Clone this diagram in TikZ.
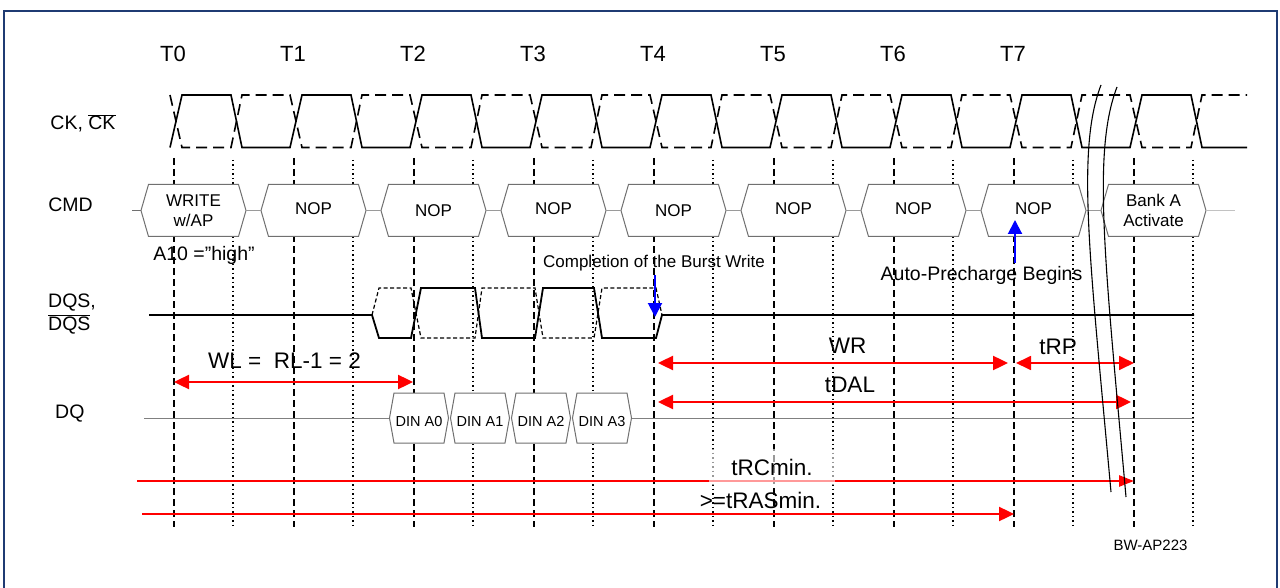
\documentclass[tikz,border=0pt]{standalone}
\usepackage{fontspec}
\setmainfont{Liberation Sans}
\usetikzlibrary{arrows.meta}
\definecolor{frameblue}{HTML}{1F3B73}
\definecolor{boxgray}{HTML}{707070}
\definecolor{linegray}{HTML}{9A9A9A}
\definecolor{sigred}{HTML}{FF0000}
\definecolor{sigblue}{HTML}{0000FF}
\newcommand{\fsz}[1]{\fontsize{#1}{#1}\selectfont}
\newcommand{\ovl}[1]{\ensuremath{\overline{\mbox{#1}}}}
\begin{document}
\begin{tikzpicture}[x=1pt,y=-1pt,
  lbl/.style={inner sep=0pt, anchor=base},
  lblw/.style={inner sep=0pt, anchor=base west},
  clk/.style={line width=1.6, line join=miter},
  clkn/.style={clk, dash pattern=on 11pt off 6pt},
  vdash/.style={line width=1.4, dash pattern=on 7pt off 4pt},
  vdot/.style={line width=1.4, dash pattern=on 1.5pt off 3pt},
  hexline/.style={draw=boxgray, fill=white, line width=1},
  conn/.style={draw=linegray, line width=1},
  cmdbox/.style={minimum width=105pt, minimum height=52pt, inner sep=0pt, align=center, font=\fontsize{17}{20}\selectfont},
  nopbox/.style={cmdbox, text height=12.4pt, text depth=0pt},
  dinbox/.style={minimum width=59pt, minimum height=50pt, inner sep=0pt, font=\fsz{14.5}, text height=10.6pt, text depth=0pt},
  redarr/.style={draw=sigred, line width=2.4},
  twoheads/.style={{Triangle[length=15pt,width=14pt]}-{Triangle[length=15pt,width=14pt]}},
  onehead/.style={-{Triangle[length=15pt,width=14pt]}},
  bluearr/.style={draw=sigblue, line width=2, -{Triangle[length=14pt,width=14pt]}},
  sigline/.style={line width=1.8, line join=miter},
  signeg/.style={line width=1.2, dash pattern=on 4pt off 2.5pt},
  brk/.style={line width=1.1}
]
\useasboundingbox (0,0) rectangle (1280,588);
\clip (0,0) rectangle (1280,588);
\fill[white] (0,0) rectangle (1280,588);

% frame
\draw[frameblue, line width=2.4] (4,11) rectangle (1277,620);

% clock labels
\foreach \i in {0,...,7}
  \node[lbl, font=\fsz{22}] (t\i) at ({173+120*\i},61.5) {T\i};

% signal names
\node[lbl, font=\fsz{19.5}] (ckname) at (83,130) {CK, \ovl{CK}};
\node[lbl, font=\fsz{19.5}] (cmdname) at (70.5,212) {CMD};
\node[lblw, font=\fsz{19.5}] (dqsname) at (48,307.3) {DQS,};
\node[lblw, font=\fsz{19.5}] (dqsnname) at (48,330) {\ovl{DQS}};
\node[lblw, font=\fsz{19.5}] (dqname) at (55,418) {DQ};

% clock
\draw[clk] (170,147.5) \foreach \i in {0,...,8}{ -- ({170+120*\i},147.5) -- ({182+120*\i},95) -- ({231+120*\i},95) -- ({242+120*\i},147.5) } -- (1247,147.5);
\draw[clkn] (170,95) \foreach \i in {0,...,8}{ -- ({170+120*\i},95) -- ({182+120*\i},147.5) -- ({231+120*\i},147.5) -- ({242+120*\i},95) } -- (1247,95);

% grid lines
\foreach \i in {0,...,8}{
  \draw[vdash] ({174+120*\i},158) -- ({174+120*\i},527);
  \draw[vdot] ({233+120*\i},160) -- ({233+120*\i},527);
}

% DQS / DQS#
\draw[signeg] (372,315) -- (379,288) -- (411,288) -- (421,338) -- (475,338) -- (482,288) -- (535,288) -- (543,338) -- (594,338) -- (602,288) -- (656,288) -- (662,315);
\draw[sigline] (149,315) -- (372,315) -- (379,338) -- (411,338) -- (421,288) -- (475,288) -- (482,338) -- (535,338) -- (543,288) -- (594,288) -- (602,338) -- (656,338) -- (662,315) -- (1194,315);

% CMD boxes
\foreach \k in {0,...,8}
  \path[hexline] ({141+120*\k},210.5) -- ({148.5+120*\k},184.5) -- ({238.5+120*\k},184.5) -- ({246+120*\k},210.5) -- ({238.5+120*\k},236.5) -- ({148.5+120*\k},236.5) -- cycle;
\node[cmdbox] (c0) at (193.5,210.5) {WRITE\\w/AP};
\node[nopbox] (c1) at (313.5,210.5) {\raisebox{2pt}{NOP}};
\node[nopbox] (c2) at (433.5,210.5) {NOP};
\node[nopbox] (c3) at (553.5,210.5) {\raisebox{2pt}{NOP}};
\node[nopbox] (c4) at (673.5,210.5) {NOP};
\node[nopbox] (c5) at (793.5,210.5) {\raisebox{2pt}{NOP}};
\node[nopbox] (c6) at (913.5,210.5) {\raisebox{2pt}{NOP}};
\node[nopbox] (c7) at (1033.5,210.5) {\raisebox{2pt}{NOP}};
\node[cmdbox] (c8) at (1153.5,210.5) {Bank A\\Activate};
\coordinate (cmdL) at (132,210.5);
\coordinate (cmdR) at (1235,210.5);
\draw[line width=1, draw=boxgray] (cmdL) -- (c0.west);
\foreach \a/\b in {0/1,1/2,2/3,3/4,4/5,5/6,6/7,7/8}
  \draw[conn] (c\a.east) -- (c\b.west);
\draw[conn, draw=linegray!60] (c8.east) -- (cmdR);

% DQ
\foreach \k in {0,...,3}
  \path[hexline] ({389.5+61*\k},418) -- ({394+61*\k},393) -- ({444+61*\k},393) -- ({448.5+61*\k},418) -- ({444+61*\k},443) -- ({394+61*\k},443) -- cycle;
\node[dinbox] (d0) at (419,418) {\raisebox{-3pt}{DIN A0}};
\node[dinbox] (d1) at (480,418) {\raisebox{-3pt}{DIN A1}};
\node[dinbox] (d2) at (541,418) {\raisebox{-3pt}{DIN A2}};
\node[dinbox] (d3) at (602,418) {\raisebox{-3pt}{DIN A3}};
\coordinate (dqL) at (144,418);
\coordinate (dqR) at (1194,418);
\draw[conn, draw=gray] (dqL) -- (d0.west);
\draw[conn, draw=gray] (d3.east) -- (dqR);

% annotations
\node[lbl, font=\fsz{19.5}] (a10) at (204,261) {A10 ="high"};
\node[lbl, font=\fsz{17}] (cmpl) at (654,267) {Completion of the Burst Write};
\node[lbl, font=\fsz{19.5}] (apre) at (981.5,280) {Auto-Precharge Begins};
\coordinate (cmpA) at (655,275);
\coordinate (cmpB) at (655,317);
\coordinate (apA) at (1015,263);
\coordinate (apB) at (1015,220);
\draw[bluearr] (cmpA) -- (cmpB);
\draw[bluearr] (apA) -- (apB);

% timing arrows
\node[lbl, font=\fsz{22.5}] (wl) at (284.5,368.3) {WL =\ \ RL-1 = 2};
\coordinate (wlA) at (174,382); \coordinate (wlB) at (413,382);
\draw[redarr, twoheads] (wlA) -- (wlB);

\node[lbl, font=\fsz{22.5}] (wr) at (847.5,353.3) {WR};
\coordinate (wrA) at (658,363); \coordinate (wrB) at (1008,363);
\draw[redarr, twoheads] (wrA) -- (wrB);

\node[lbl, font=\fsz{22.5}] (trp) at (1058,354) {tRP};
\coordinate (trpA) at (1016,363); \coordinate (trpB) at (1134,363);
\draw[redarr, line width=1.8, twoheads] (trpA) -- (trpB);

\node[lbl, font=\fsz{22.5}] (tdal) at (850,392.7) {tDAL};
\coordinate (dalA) at (658,402); \coordinate (dalB) at (1131,402);
\draw[redarr, twoheads] (dalA) -- (dalB);

\coordinate (trcA) at (137,481); \coordinate (trcB) at (1134,481);
\draw[redarr, -{Triangle[length=15pt,width=11pt]}] (trcA) -- (trcB);
\node[lbl, font=\fsz{22.5}, fill=white, fill opacity=0.6, text opacity=1, inner xsep=22pt, inner ysep=10pt] (trc) at (772,475) {tRCmin.};

\node[lbl, font=\fsz{22.5}] (tras) at (760.5,508.3) {>=tRASmin.};
\coordinate (trasA) at (142,514); \coordinate (trasB) at (1014,514);
\draw[redarr, onehead] (trasA) -- (trasB);

% break marks
\draw[brk] (1101,85) .. controls (1076,150) and (1090,260) .. (1111,492);
\draw[brk] (1117,87) .. controls (1092,152) and (1105,262) .. (1126,497);

\node[lbl, font=\fsz{15}] (fig) at (1150.5,550) {BW-AP223};
\end{tikzpicture}
\end{document}
